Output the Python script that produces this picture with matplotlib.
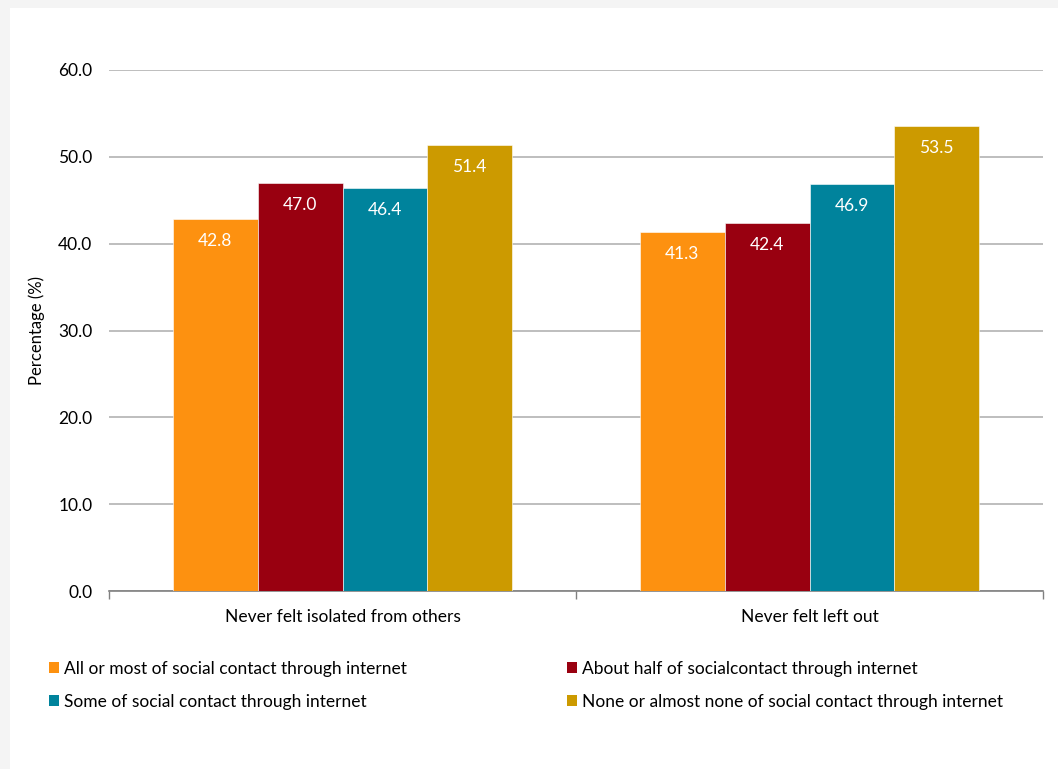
import numpy as np
import matplotlib
matplotlib.use("Agg")
from matplotlib import pyplot as plt
from matplotlib.patches import Rectangle, Patch

categories = ["Never felt isolated from others", "Never felt left out"]
series = ["All or most of social contact through internet",
          "About half of socialcontact through internet",
          "Some of social contact through internet",
          "None or almost none of social contact through internet"]
all_most = [42.8, 41.3]
about_half = [47.0, 42.4]
some = [46.4, 46.9]
none_almost = [51.4, 53.5]
yticks = [0, 10, 20, 30, 40, 50, 60]

colors = ["#fd9110", "#990010", "#00839c", "#cc9a00"]
values = [all_most, about_half, some, none_almost]

plt.rcParams['font.family'] = ['Lato', 'DejaVu Sans']

fig = plt.figure(figsize=(10.58, 7.69), dpi=100)
fig.patch.set_facecolor("#f4f4f4")
fig.patches.append(Rectangle((10 / 1058, 0), 1, 1 - 8 / 769, transform=fig.transFigure,
                             facecolor="white", edgecolor="none", zorder=-5))

ax = fig.add_axes([109 / 1058, 1 - 591 / 769, (1043 - 109) / 1058, (591 - 70) / 769])
ax.set_facecolor("none")
ax.set_zorder(2)

x = np.arange(len(categories))
w = 0.1815
for i, (vals, c) in enumerate(zip(values, colors)):
    pos = x + (i - 1.5) * w
    bars = ax.bar(pos, vals, width=w, color=c, edgecolor="white", linewidth=0.4, zorder=3)
    for b, v in zip(bars, vals):
        ax.annotate(f"{v:.1f}", (b.get_x() + b.get_width() / 2, v), xytext=(0, -22),
                    textcoords="offset pixels", ha="center", va="center",
                    color="white", fontsize=12.5, zorder=4)

ax.set_ylim(0, 60)
ax.set_xlim(-0.5, 1.5)
ax.set_yticks(yticks)
ax.set_yticklabels([f"{t:.1f}" for t in yticks], fontsize=12.5)
ax.tick_params(axis="y", length=0, pad=12)
ax.yaxis.grid(True, color="#b3b3b3", linewidth=1.2, zorder=0)
ax.set_axisbelow(True)

ax.set_xticks([-0.5, 0.5, 1.5])
ax.set_xticklabels([])
ax.set_xticks(x, minor=True)
ax.set_xticklabels(categories, minor=True, fontsize=12.5)
ax.tick_params(axis="x", which="major", length=6, color="#808080", width=1)
ax.tick_params(axis="x", which="minor", length=0, pad=13)

for s in ["top", "right", "left"]:
    ax.spines[s].set_visible(False)
ax.spines["bottom"].set_color("#808080")
ax.spines["bottom"].set_linewidth(1.2)

ax.set_ylabel("Percentage (%)", fontsize=12)
ax.yaxis.set_label_coords(-0.068, 0.5)

handles = [Patch(facecolor=c, label=s) for c, s in zip(colors, series)]
order = [0, 2, 1, 3]
fig.legend([handles[k] for k in order], [series[k] for k in order], ncol=2,
           loc="upper left", bbox_to_anchor=(33 / 1058, 1 - 645 / 769),
           frameon=False, fontsize=12.5, handlelength=0.6, handleheight=0.6,
           handletextpad=0.3, columnspacing=9.2, labelspacing=1.0)

fig.savefig("out.png", dpi=100, facecolor=fig.get_facecolor())
